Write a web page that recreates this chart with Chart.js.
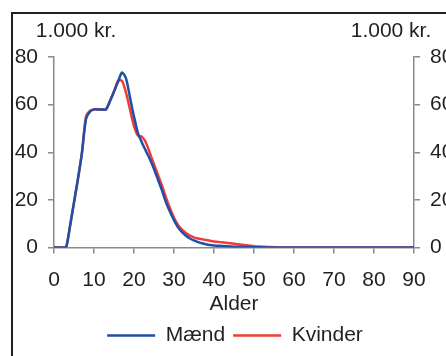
<!DOCTYPE html>
<html>
<head>
<meta charset="utf-8">
<script src="https://cdn.jsdelivr.net/npm/chart.js@4"></script>
<style>
  html, body { margin: 0; padding: 0; background: #fff; overflow: hidden; }
  #wrap { position: relative; width: 446px; height: 356px; overflow: hidden; }
  #frame { position: absolute; left: 11px; top: 12px; width: 600px; height: 600px; border: 2px solid #231f20; }
  #c { position: absolute; left: 0; top: 0; }
</style>
</head>
<body>
<div id="wrap">
  <div id="frame"></div>
  <canvas id="c" width="470" height="356"></canvas>
</div>
<script>
// Alder (år)
const ages = [0,1,2,3,4,5,6,7,8,9,10,11,12,13,14,15,16,17,18,19,20,
  21,22,23,24,25,26,27,28,29,30,31,32,33,34,35,36,37,38,39,40,
  41,42,43,44,45,46,47,48,49,50,52,54,56,58,60,65,70,80,90];

// 1.000 kr.
const maend = [0,0,0,0,9,19,29,40,54,57,58,58,58,58,61.5,65.5,69.5,73.5,71,63,55,
  48,44,40.5,37,33,28.5,24,19,15,11.5,8.5,6.5,5,3.8,3,2.3,1.8,1.4,1.1,0.9,
  0.8,0.7,0.6,0.5,0.4,0.35,0.3,0.25,0.2,0.15,0.1,0.05,0,0,0,0,0,0,0];

const kvinder = [0,0,0,0,9,19,29,40,55,57.5,58,58,58,58,61.5,65.5,70,70,65,58,51,
  47,46.5,44,39.5,35,30.5,26,21,16.5,12.5,9.5,7.5,6,5,4.3,3.8,3.5,3.2,2.9,2.6,
  2.4,2.2,2,1.8,1.6,1.4,1.2,1,0.8,0.6,0.4,0.2,0.1,0,0,0,0,0,0];

const xTicks = [0,10,20,30,40,50,60,70,80,90];
const yTicks = [0,20,40,60,80];
const unitLabel = '1.000 kr.';

const textColor = '#231f20';
const axisColor = '#8a8a8a';

Chart.defaults.font.family = '"Liberation Sans", Arial, sans-serif';
Chart.defaults.font.size = 21;
Chart.defaults.color = textColor;

const toPoints = vals => vals.map((v, i) => ({ x: ages[i], y: v }));

// "1.000 kr." over begge akser
const unitPlugin = {
  id: 'units',
  afterDraw(chart) {
    const ctx = chart.ctx;
    ctx.save();
    ctx.font = '21px "Liberation Sans", Arial, sans-serif';
    ctx.fillStyle = textColor;
    ctx.textBaseline = 'middle';
    ctx.textAlign = 'center';
    ctx.fillText(unitLabel, 76, 31);
    ctx.fillText(unitLabel, 391, 31);
    ctx.restore();
  }
};

const yAxis = (pos) => ({
  position: pos,
  min: 0,
  max: 80,
  afterBuildTicks: s => { s.ticks = yTicks.map(v => ({ value: v })); },
  border: { color: axisColor, width: 1.5 },
  grid: { drawOnChartArea: false, drawTicks: true, tickLength: 6, color: axisColor, lineWidth: 1.5 },
  ticks: { padding: 10, color: textColor },
  afterFit: s => { s.width = pos === 'left' ? 54 : 470 - 414; }
});

new Chart(document.getElementById('c'), {
  type: 'line',
  data: {
    datasets: [
      { label: 'Mænd', data: toPoints(maend), borderColor: '#1f4fa6', backgroundColor: '#1f4fa6',
        borderWidth: 2.5, pointRadius: 0, tension: 0.25, yAxisID: 'y' },
      { label: 'Kvinder', data: toPoints(kvinder), borderColor: '#ee3d36', backgroundColor: '#ee3d36',
        borderWidth: 2.5, pointRadius: 0, tension: 0.25, yAxisID: 'y' }
    ]
  },
  options: {
    responsive: false,
    animation: false,
    layout: { padding: { top: 57, bottom: 0, left: 0, right: 0 } },
    scales: {
      x: {
        type: 'linear',
        min: 0,
        max: 90,
        afterBuildTicks: s => { s.ticks = xTicks.map(v => ({ value: v })); },
        border: { color: axisColor, width: 1.5 },
        grid: { drawOnChartArea: false, drawTicks: true, tickLength: 6, color: axisColor, lineWidth: 1.5 },
        ticks: { padding: 14, maxRotation: 0, color: textColor },
        title: { display: true, text: 'Alder', padding: { top: -15, bottom: 0 }, color: textColor }
      },
      y: yAxis('left'),
      y2: yAxis('right')
    },
    plugins: {
      legend: {
        position: 'bottom',
        labels: { boxWidth: 48, boxHeight: 0, padding: 8, color: textColor }
      },
      tooltip: { enabled: false }
    }
  },
  plugins: [unitPlugin]
});
</script>
</body>
</html>
